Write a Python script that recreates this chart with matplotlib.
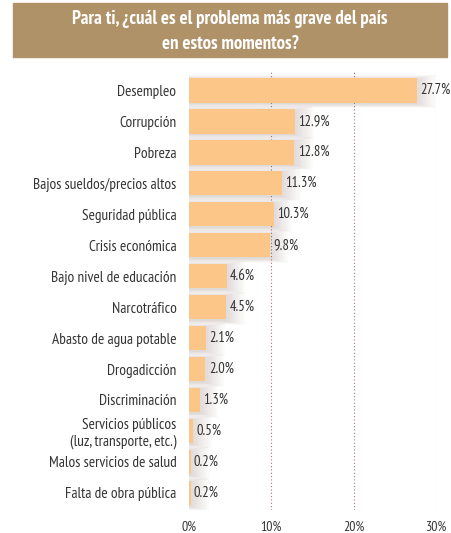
import numpy as np
import matplotlib.pyplot as plt
from matplotlib.patches import Rectangle

categories = ['Desempleo', 'Corrupción', 'Pobreza', 'Bajos sueldos/precios altos',
              'Seguridad pública', 'Crisis económica', 'Bajo nivel de educación',
              'Narcotráfico', 'Abasto de agua potable', 'Drogadicción',
              'Discriminación', 'Servicios públicos\n(luz, transporte, etc.)',
              'Malos servicios de salud', 'Falta de obra pública']
values = [27.7, 12.9, 12.8, 11.3, 10.3, 9.8, 4.6, 4.5, 2.1, 2.0, 1.3, 0.5, 0.2, 0.2]
ticks = [0, 10, 20, 30]

plt.rcParams['font.family'] = ['PT Sans Narrow', 'DejaVu Sans']

fig = plt.figure(figsize=(4.51, 5.33), dpi=100)

# title band
fig.patches.append(Rectangle((13/451, 1-57/533), 434/451, 54/533,
                             transform=fig.transFigure, color='#B09268', zorder=0))
fig.text(230/451, 1-19/533, 'Para ti, ¿cuál es el problema más grave del país',
         ha='center', va='center', color='white', fontsize=13.5, fontweight='bold')
fig.text(230/451, 1-44/533, 'en estos momentos?',
         ha='center', va='center', color='white', fontsize=13.5, fontweight='bold')

ax = fig.add_axes([189/451, 1-510/533, 247/451, 440/533])
y = np.arange(len(categories))
# soft shadow to the right of the bars
for k in range(10):
    ax.barh(y + 0.04, np.array(values) + 0.25 * k, height=0.8 + 0.03 * k,
            color='#7a6650', alpha=0.025, linewidth=0, zorder=1.5)
ax.barh(y, values, height=0.8, color='#FBC688', zorder=2)
for yi, v in zip(y, values):
    ax.text(v + 0.4, yi, f'{v:.1f}%', va='center', ha='left', fontsize=10.5, color='#333333', zorder=3)

ax.set_xlim(0, 30)
ax.set_ylim(13.55, -0.65)
ax.set_yticks(y)
ax.set_yticklabels(categories, fontsize=11, color='#333333', ha='right', multialignment='right')
ax.tick_params(axis='y', length=0, pad=9)
ax.set_xticks(ticks)
ax.set_xticklabels([f'{t}%' for t in ticks], fontsize=10, color='#333333')
ax.tick_params(axis='x', length=0, pad=8)
for t in ticks[1:]:
    ax.axvline(t, color='#B07070', linestyle=(0, (1, 2)), linewidth=0.8, zorder=1)
for s in ax.spines.values():
    s.set_visible(False)

plt.savefig('out.png', dpi=100)
